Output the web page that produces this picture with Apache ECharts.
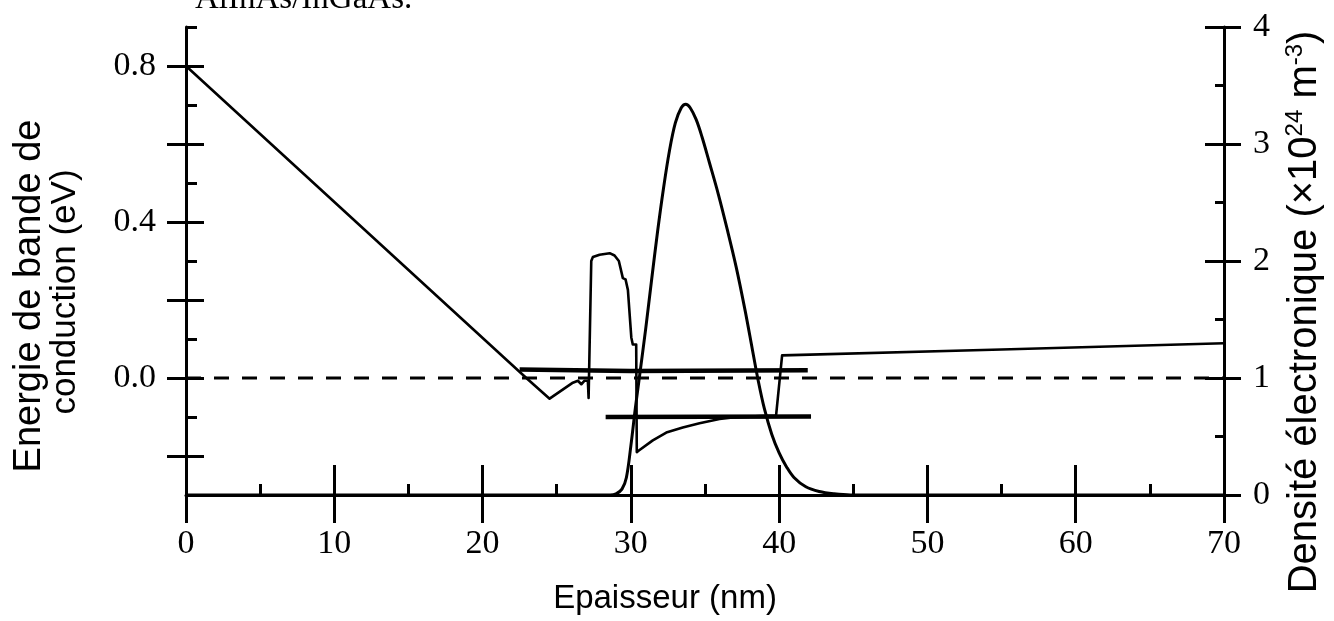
<!DOCTYPE html>
<html>
<head>
<meta charset="utf-8">
<script src="https://cdn.jsdelivr.net/npm/echarts@6/dist/echarts.min.js"></script>
<style>
html, body { margin: 0; padding: 0; background: #ffffff; }
#chart { width: 1334px; height: 621px; }
</style>
</head>
<body>
<div id="chart"></div>
<script>
// Conduction band edge (eV) along the layer stack
const cbDepth  = [0, 22.95, 24.52, 26.09, 26.43, 26.66, 26.88, 27.10, 27.15, 27.33, 27.44, 27.89, 28.57, 28.90, 29.19, 29.46, 29.64, 29.80, 30.03, 30.13, 30.36, 30.40, 30.54, 31.48, 32.39, 33.50, 34.63, 35.98, 36.87, 38.00, 39.12, 39.79, 40.20, 55.0, 70.0];
const cbEnergy = [0.80, 0.000, -0.053, -0.012, -0.007, -0.016, -0.007, -0.007, -0.051, 0.300, 0.310, 0.316, 0.320, 0.314, 0.300, 0.256, 0.253, 0.226, 0.104, 0.086, 0.086, -0.190, -0.186, -0.160, -0.140, -0.127, -0.116, -0.105, -0.101, -0.099, -0.097, -0.097, 0.058, 0.073, 0.089];

// Fermi level (dashed)
const fermiDepth  = [0, 70];
const fermiEnergy = [0, 0];

// Subband levels
const e0Depth  = [22.5, 30.0, 41.93];
const e0Energy = [0.022, 0.018, 0.020];
const e1Depth  = [28.3, 42.15];
const e1Energy = [-0.100, -0.099];

// Electron density (x10^24 m^-3)
const nDepth   = [0, 28.6, 29.0, 29.4, 29.7, 30.0, 30.3, 30.6, 31.0, 31.4, 31.8, 32.2, 32.6, 33.0, 33.4, 33.7, 34.0, 34.4, 34.8, 35.3, 35.9, 36.5, 37.1, 37.7, 38.2, 38.6, 39.0, 39.5, 40.0, 40.5, 41.0, 41.8, 42.7, 43.7, 44.8, 70];
const nDensity = [0, 0, 0.01, 0.05, 0.15, 0.42, 0.74, 1.03, 1.42, 1.84, 2.25, 2.62, 2.94, 3.18, 3.31, 3.34, 3.31, 3.21, 3.06, 2.84, 2.57, 2.27, 1.95, 1.58, 1.24, 0.97, 0.74, 0.52, 0.36, 0.24, 0.15, 0.07, 0.03, 0.01, 0, 0];

// Tick positions and labels
const energyMajorTicks = [-0.2, 0, 0.2, 0.4, 0.6, 0.8];
const energyMinorTicks = [-0.1, 0.1, 0.3, 0.5, 0.7, 0.9];
const energyLabels     = [0, 0.4, 0.8];
const densityMajorTicks = [0, 1, 2, 3, 4];
const densityMinorTicks = [0.5, 1.5, 2.5, 3.5];

const zip = (xs, ys) => xs.map((x, i) => [x, ys[i]]);

const INK = '#000000';
const SERIF = '"Liberation Serif", "DejaVu Serif", serif';
const SANS = '"Liberation Sans", Arial, sans-serif';
const tickLine = { color: INK, width: 3 };
const digitLabel = { color: INK, fontFamily: SERIF, fontSize: 34 };

const xBase = { type: 'value', min: 0, max: 70, interval: 10, position: 'bottom', splitLine: { show: false } };
const eBase = { type: 'value', min: -0.3, max: 0.9, interval: 0.1, position: 'left', splitLine: { show: false } };
const nBase = { type: 'value', min: 0, max: 4, interval: 0.5, position: 'right', splitLine: { show: false } };

const chart = echarts.init(document.getElementById('chart'), null, { renderer: 'canvas' });

chart.setOption({
  backgroundColor: '#ffffff',
  animation: false,
  grid: { left: 186, right: 110, top: 27, bottom: 126, containLabel: false, outerBoundsMode: 'none' },
  xAxis: [
    Object.assign({}, xBase, {
      axisLine: { show: true, onZero: false, lineStyle: { color: INK, width: 3 } },
      axisTick: { show: true, inside: false, length: 28, lineStyle: tickLine },
      axisLabel: Object.assign({ show: true, margin: 32 }, digitLabel)
    }),
    Object.assign({}, xBase, {
      axisLine: { show: false, onZero: false },
      axisTick: { show: true, inside: true, length: 30, lineStyle: tickLine },
      minorTick: { show: true, splitNumber: 2, length: 11, lineStyle: tickLine },
      axisLabel: { show: false }
    })
  ],
  yAxis: [
    Object.assign({}, eBase, {
      axisLine: { show: true, onZero: false, lineStyle: { color: INK, width: 3 } },
      axisTick: { show: true, inside: false, length: 19, customValues: energyMajorTicks, lineStyle: tickLine },
      axisLabel: Object.assign({ show: true, margin: 30, customValues: energyLabels, formatter: v => v.toFixed(1) }, digitLabel)
    }),
    Object.assign({}, eBase, {
      axisLine: { show: false, onZero: false },
      axisTick: { show: true, inside: true, length: 18, customValues: energyMajorTicks, lineStyle: tickLine },
      axisLabel: { show: false }
    }),
    Object.assign({}, eBase, {
      axisLine: { show: false, onZero: false },
      axisTick: { show: true, inside: true, length: 11, customValues: energyMinorTicks, lineStyle: tickLine },
      axisLabel: { show: false }
    }),
    Object.assign({}, nBase, {
      axisLine: { show: true, onZero: false, lineStyle: { color: INK, width: 3 } },
      axisTick: { show: true, inside: false, length: 17, customValues: densityMajorTicks, lineStyle: tickLine },
      axisLabel: Object.assign({ show: true, margin: 29, customValues: densityMajorTicks }, digitLabel)
    }),
    Object.assign({}, nBase, {
      axisLine: { show: false, onZero: false },
      axisTick: { show: true, inside: true, length: 19, customValues: densityMajorTicks, lineStyle: tickLine },
      axisLabel: { show: false }
    }),
    Object.assign({}, nBase, {
      axisLine: { show: false, onZero: false },
      axisTick: { show: true, inside: true, length: 9, customValues: densityMinorTicks, lineStyle: tickLine },
      axisLabel: { show: false }
    })
  ],
  series: [
    {
      name: 'Fermi', type: 'line', xAxisIndex: 0, yAxisIndex: 0, symbol: 'none',
      data: zip(fermiDepth, fermiEnergy),
      lineStyle: { color: INK, width: 3, type: [15, 13] }
    },
    {
      name: 'E0', type: 'line', xAxisIndex: 0, yAxisIndex: 0, symbol: 'none',
      data: zip(e0Depth, e0Energy),
      lineStyle: { color: INK, width: 4.5 }
    },
    {
      name: 'E1', type: 'line', xAxisIndex: 0, yAxisIndex: 0, symbol: 'none',
      data: zip(e1Depth, e1Energy),
      lineStyle: { color: INK, width: 4.5 }
    },
    {
      name: 'Bande de conduction', type: 'line', xAxisIndex: 0, yAxisIndex: 0, symbol: 'none',
      data: zip(cbDepth, cbEnergy),
      lineStyle: { color: INK, width: 2.6, join: 'round' }
    },
    {
      name: 'Densité', type: 'line', xAxisIndex: 0, yAxisIndex: 3, symbol: 'none',
      smooth: 0.35,
      data: zip(nDepth, nDensity),
      lineStyle: { color: INK, width: 3 }
    }
  ],
  graphic: [
    {
      type: 'text', x: 195, y: 16,
      style: { text: 'AlInAs/InGaAs.', font: '33px ' + SERIF, fill: INK, align: 'left', verticalAlign: 'bottom' }
    },
    {
      type: 'text', x: 30, y: 296, rotation: Math.PI / 2,
      style: { text: 'Energie de bande de', font: '38px ' + SANS, fill: INK, align: 'center', verticalAlign: 'middle' }
    },
    {
      type: 'text', x: 65, y: 292, rotation: Math.PI / 2,
      style: { text: 'conduction (eV)', font: '35px ' + SANS, fill: INK, align: 'center', verticalAlign: 'middle' }
    },
    {
      type: 'text', x: 665, y: 599,
      style: { text: 'Epaisseur (nm)', font: '33px ' + SANS, fill: INK, align: 'center', verticalAlign: 'middle' }
    },
    {
      type: 'text', x: 1305, y: 312, rotation: Math.PI / 2,
      style: {
        text: '{n|Densité électronique (×10}{s|24}{n| m}{s|-3}{n|)}',
        align: 'center', verticalAlign: 'middle',
        rich: {
          n: { fontFamily: SANS, fontSize: 40, lineHeight: 44, fill: INK, color: INK },
          s: { fontFamily: SANS, fontSize: 24, lineHeight: 24, verticalAlign: 'top', fill: INK, color: INK }
        }
      }
    }
  ]
});
</script>
</body>
</html>
